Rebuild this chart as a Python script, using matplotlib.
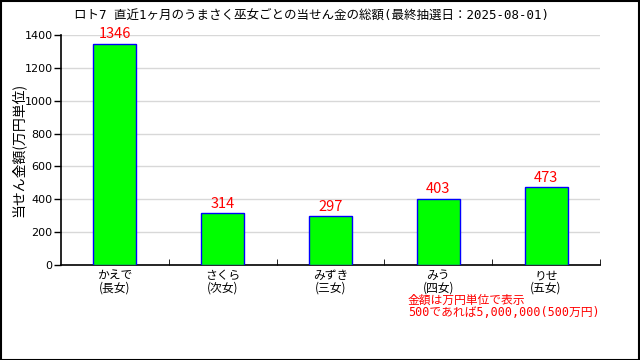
import matplotlib
matplotlib.use('Agg')
import matplotlib.pyplot as plt
from matplotlib.patches import Rectangle

plt.rcParams['font.family'] = ['Noto Sans CJK JP', 'DejaVu Sans']
mono_jp = ['DejaVu Sans Mono', 'Noto Sans CJK JP']

# data
names = ['かえで\n(長女)', 'さくら\n(次女)', 'みずき\n(三女)', 'みう\n(四女)', 'りせ\n(五女)']
totals = [1346, 314, 297, 403, 473]
yticks = [0, 200, 400, 600, 800, 1000, 1200, 1400]
title = 'ロト7 直近1ヶ月のうまさく巫女ごとの当せん金の総額(最終抽選日：2025-08-01)'
note = '金額は万円単位で表示\n500であれば5,000,000(500万円)'

fig = plt.figure(figsize=(6.4, 3.6), dpi=100)
fig.patch.set_facecolor('white')
fig.patches.append(Rectangle((0.001, 0.001), 0.997, 0.996, transform=fig.transFigure,
                             fill=False, edgecolor='black', linewidth=1.5))
ax = fig.add_axes([61/640, 1-265/360, 539/640, 230/360])

x = list(range(len(names)))
ax.bar(x, totals, width=0.4, color='#00ff00', edgecolor='#0000ff', linewidth=1, zorder=3)
for xi, v in zip(x, totals):
    ax.text(xi, v + 15, str(v), color='red', ha='center', va='bottom', fontsize=10.5)

ax.set_xlim(-0.5, 4.5)
ax.set_ylim(0, 1400)
ax.set_yticks(yticks)
ax.set_yticklabels([str(t) for t in yticks], fontsize=8, family='DejaVu Sans')
ax.set_xticks(x)
ax.set_xticklabels(names, fontsize=8.5, linespacing=0.9)
ax.tick_params(axis='x', which='major', length=0, pad=3)
ax.set_xticks([0.5, 1.5, 2.5, 3.5, 4.5], minor=True)
ax.tick_params(axis='x', which='minor', direction='in', length=4, color='black')
ax.tick_params(axis='y', direction='out', length=5, width=1, pad=1)
ax.yaxis.grid(True, color='#d8d8d8', linewidth=1, zorder=0)
ax.spines['top'].set_visible(False)
ax.spines['right'].set_visible(False)
ax.spines['left'].set_linewidth(1.2)
ax.spines['bottom'].set_linewidth(1.2)

ax.set_ylabel('当せん金額(万円単位)', fontsize=10, labelpad=-1)
fig.text(312/640, 1-15/360, title, ha='center', va='center', fontsize=9, family=mono_jp)
fig.text(408/640, 1-294/360, note, color='red', ha='left', va='top', fontsize=8.5,
         linespacing=0.85, family=mono_jp)

fig.savefig('out.png', dpi=100)
